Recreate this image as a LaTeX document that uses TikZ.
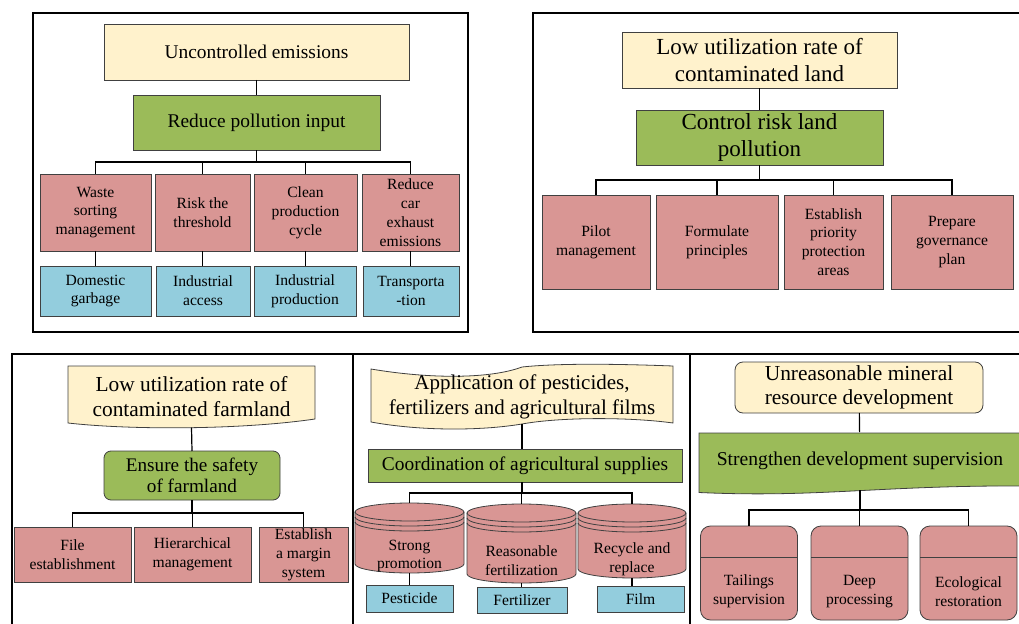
\documentclass[tikz,border=0pt]{standalone}
\usepackage{fontspec}
\setmainfont{Liberation Serif}
\usepackage{tikz}

\definecolor{cream}{RGB}{255,242,204}
\definecolor{leaf}{RGB}{155,187,89}
\definecolor{rose}{RGB}{217,150,148}
\definecolor{sky}{RGB}{147,205,221}
\definecolor{edge}{RGB}{64,64,64}

\newcommand{\fsS}{\fontsize{7.8}{9.4}\selectfont}
\newcommand{\fsM}{\fontsize{9.7}{11.2}\selectfont}
\newcommand{\fsL}{\fontsize{10.7}{12.3}\selectfont}
\newcommand{\fsX}{\fontsize{11.5}{13.7}\selectfont}

\tikzset{
  sz/.style 2 args={minimum width=(#1)*0.5pt, minimum height=(#2)*0.5pt},
  cell/.style={draw=edge, line width=0.4pt, align=center, inner sep=0pt, outer sep=0pt},
  ybox/.style={cell, fill=cream},
  gbox/.style={cell, fill=leaf},
  rbox/.style={cell, fill=rose, font=\fsS},
  bbox/.style={cell, fill=sky, font=\fsS},
  tag/.style={align=center, inner sep=0pt, outer sep=0pt},
  link/.style={line width=0.6pt},
  frame/.style={line width=0.9pt}
}

\begin{document}
\begin{tikzpicture}[x=0.5pt,y=0.5pt]
\clip (0,0) rectangle (1019,623);

% panel frames
\draw[frame] (33,291) rectangle (468,610);
\draw[frame] (533,291) rectangle (1030,610);
\draw[frame] (12,-10) -- (12,269) -- (1030,269);
\draw[frame] (353,269) -- (353,-10);
\draw[frame] (690,269) -- (690,-10);

% uncontrolled emissions
\node[ybox, sz={305}{56}, font=\fsM] (emis) at (256.5,571) {Uncontrolled emissions};
\node[gbox, sz={247}{55}, font=\fsM] (reduce) at (256.5,500.5) {Reduce pollution input};
\coordinate (j1) at (256.5,461);

\node[rbox, sz={111}{77}] (waste) at (95.5,410.5) {Waste\\sorting\\management};
\node[rbox, sz={95}{77}] (risk) at (202.5,410.5) {Risk the\\threshold};
\node[rbox, sz={103}{77}] (clean) at (305.5,410.5) {Clean\\production\\cycle};
\node[rbox, sz={97}{77}] (car) at (410.5,410.5) {Reduce\\car\\exhaust\\emissions};

\node[bbox, sz={111}{50}] (garbage) at (95.5,332) {Domestic\\garbage};
\node[bbox, sz={94}{50}] (access) at (203,332) {Industrial\\access};
\node[bbox, sz={102}{50}] (prod) at (305,332) {Industrial\\production};
\node[bbox, sz={96}{50}] (transp) at (411,332) {Transporta\\-tion};

\draw[link] (emis) -- (reduce);
\draw[link] (reduce) -- (j1);
\foreach \a/\b in {waste/garbage, risk/access, clean/prod, car/transp}{
  \draw[link] (j1) -| (\a.north);
  \draw[link] (\a.south) -- (\a.south |- \b.north);
}

% contaminated land
\node[ybox, sz={275}{56}, font=\fsX] (lowland) at (759.5,563) {Low utilization rate of\\contaminated land};
\node[gbox, sz={247}{55}, font=\fsX] (control) at (759.5,485.5) {Control risk land\\pollution};
\coordinate (j2) at (759.5,443);

\node[rbox, sz={108}{94}] (pilot) at (596,381) {Pilot\\management};
\node[rbox, sz={122}{94}] (formulate) at (717,381) {Formulate\\principles};
\node[rbox, sz={99}{94}] (priority) at (833.5,381) {Establish\\priority\\protection\\areas};
\node[rbox, sz={122}{94}] (plan) at (952,381) {Prepare\\governance\\plan};

\draw[link] (lowland) -- (control);
\draw[link] (control) -- (j2);
\foreach \a in {pilot, formulate, priority, plan}
  \draw[link] (j2) -| (\a.north);

% contaminated farmland
\filldraw[fill=cream, draw=edge, line width=0.4pt] (68,257) -- (315,257) -- (315,204)
  .. controls (240,193) and (130,193) .. (68,200) -- cycle;
\node[tag, sz={247}{61.5}, font=\fsL] (farmland) at (191.5,226.25) {Low utilization rate of\\contaminated farmland};
\node[gbox, rounded corners=3.5pt, sz={176}{49}, font=\fontsize{9.6}{10.7}\selectfont] (safety) at (192,147.5) {Ensure the safety\\of farmland};
\coordinate (j3) at (192,110);

\node[rbox, sz={117}{55}] (file) at (72.5,68.5) {File\\establishment};
\node[rbox, sz={117}{55}] (hier) at (192.5,68.5) {Hierarchical\\management};
\node[rbox, sz={89}{55}] (margin) at (303.5,68.5) {Establish\\a margin\\system};

\draw[link] (farmland.south) -- (safety.north);
\draw[link] (safety) -- (j3);
\foreach \a in {file, hier, margin}
  \draw[link] (j3) -| (\a.north);

% agricultural supplies
\filldraw[fill=cream, draw=edge, line width=0.4pt] (371,254)
  .. controls (430,244) and (490,244) .. (522,256)
  .. controls (560,260) and (620,259) .. (673,257) -- (673,200)
  .. controls (630,206) and (560,206) .. (522,199)
  .. controls (480,192) and (420,192) .. (371,201) -- cycle;
\node[tag, sz={302}{55}, font=\fontsize{10.5}{12.5}\selectfont] (pesticides) at (522,226.5) {Application of pesticides,\\fertilizers and agricultural films};
\node[gbox, sz={314}{33}, font=\fsM] (supplies) at (525,157.5) {Coordination of agricultural supplies};
\coordinate (j4) at (522,130);

\foreach \nm/\cx/\rx/\tc/\bc/\ty/\txt in {promo/409.5/54.5/111/59/67/{Strong\\promotion},
    fert/521.5/54.5/110/49/62.5/{Reasonable\\fertilization},
    recyc/632/54/110/54/64/{Recycle and\\replace}}{
  \node[tag, sz={2*\rx}{\tc-\bc+18}] (\nm) at (\cx,{(\tc+\bc)/2}) {};
  \filldraw[fill=rose, draw=edge, line width=0.4pt] (\cx-\rx,\tc) -- (\cx-\rx,\bc)
    arc[start angle=180, end angle=360, x radius=\rx, y radius=9] -- (\cx+\rx,\tc)
    arc[start angle=0, end angle=180, x radius=\rx, y radius=9] -- cycle;
  \foreach \d in {0,5,10}
    \draw[edge, line width=0.4pt] (\cx-\rx,\tc-\d) arc[start angle=180, end angle=360, x radius=\rx, y radius=9];
  \node[tag, font=\fsS] (\nm-t) at (\cx,\ty) {\txt};
}

\node[bbox, sz={87}{27}] (pesticide) at (409.5,24.5) {Pesticide};
\node[bbox, sz={90}{26}] (fertilizer) at (522,23) {Fertilizer};
\node[bbox, sz={87}{26}] (film) at (640.5,24) {Film};

\draw[link] (pesticides.south) -- (pesticides.south |- supplies.north);
\draw[link] (j4 |- supplies.south) -- (j4);
\foreach \a/\b in {promo/pesticide, fert/fertilizer, recyc/film}{
  \draw[link] (j4) -| (\a.north);
  \draw[link] (\a.south) -- (\a.south |- \b.north);
}

% mineral resource development
\node[ybox, rounded corners=4pt, sz={248}{51}, font=\fsL] (mineral) at (859,235.5) {Unreasonable mineral\\resource development};
\filldraw[fill=leaf, draw=edge, line width=0.4pt] (699,190) -- (1030,190) -- (1030,137)
  .. controls (880,138) and (820,125) .. (699,130.5) -- cycle;
\node[tag, sz={300}{58}, font=\fontsize{9.8}{11.5}\selectfont] (supervise) at (860,162) {Strengthen development supervision};
\coordinate (j5) at (860,113);

\draw[link] (mineral) -- (supervise);
\draw[link] (supervise) -- (j5);
\foreach \nm/\cx/\txt in {tailings/749/{Tailings\\supervision}, deep/859.5/{Deep\\processing}, eco/968.5/{Ecological\\restoration}}{
  \node[rbox, rounded corners=5pt, sz={97}{94}] (\nm) at (\cx,50) {};
  \draw[edge, line width=0.4pt] (\nm.west |- 0,66) -- (\nm.east |- 0,66);
  \node[tag, font=\fsS] (\nm-t) at (\cx,31.5) {\txt};
  \draw[link] (j5) -| (\nm.north);
}

\end{tikzpicture}
\end{document}
